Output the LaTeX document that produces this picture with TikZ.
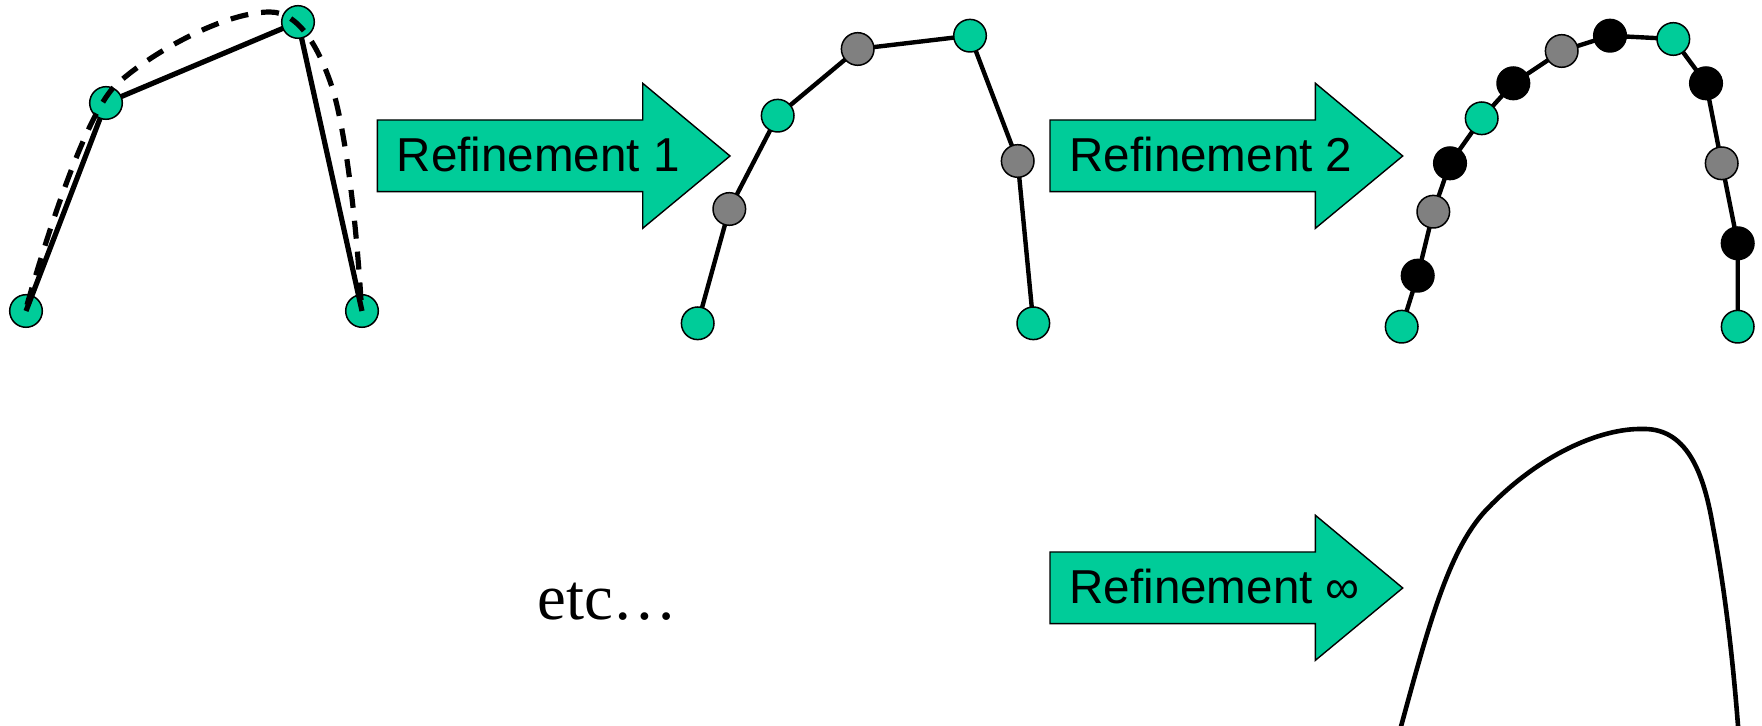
\documentclass[tikz,border=0pt]{standalone}
\usepackage{fontspec}
\setmainfont{Liberation Serif}
\newfontfamily\arialfont{Liberation Sans}
\pgfdeclarelayer{back}
\pgfdeclarelayer{wires}
\pgfsetlayers{back,wires,main}
\definecolor{sea}{HTML}{00CC99}
\definecolor{midgray}{HTML}{808080}
\tikzset{
  dot/.style={circle, draw=black, line width=0.75pt, minimum size=16.3pt, inner sep=0pt},
  ptsea/.style={dot, fill=sea},
  ptgray/.style={dot, fill=midgray},
  ptblack/.style={dot, fill=black},
  poly/.style={line width=2.2pt, line join=round},
  hull/.style={line width=2.6pt},
  limitcurve/.style={line width=2.6pt, dash pattern=on 9pt off 6.5pt},
  smoothcurve/.style={line width=2.3pt},
  arrowbody/.style={fill=sea, draw=black, line width=0.7pt, line join=miter},
  arrowtext/.style={anchor=base west, inner sep=0pt, font=\arialfont\fontsize{23.8}{23.8}\selectfont},
  pics/refarrow/.style={code={
    \draw[arrowbody] (0,-36) -- (265.4,-36) -- (265.4,-72.7) -- (352.7,0)
      -- (265.4,72.3) -- (265.4,35.7) -- (0,35.7) -- cycle;
    \node[arrowtext] (-label) at (19,15.7) {#1};
  }}
}
\begin{document}
\begin{tikzpicture}[x=0.5pt,y=-0.5pt]
\useasboundingbox (0,0) rectangle (1762,726);

% --- initial control polygon and the curve it defines ---
\begin{pgfonlayer}{back}
  \node[ptsea] (p0) at (26,311) {};
  \node[ptsea] (p3) at (362,311) {};
\end{pgfonlayer}
\node[ptsea] (p1) at (106,103) {};
\node[ptsea] (p2) at (298,22) {};
\begin{pgfonlayer}{wires}
  \draw[hull] (p0.center) -- (p1.center) -- (p2.center) -- (p3.center);
\end{pgfonlayer}
\draw[limitcurve] (27,305) .. controls (50,225) and (85,120) .. (113,88)
  .. controls (140,60) and (220,12) .. (270,12)
  .. controls (300,12) and (320,50) .. (333,90)
  .. controls (346,135) and (356,220) .. (361,300);

% --- first refinement ---
\pic (a1) at (377.3,156) {refarrow={Refinement 1}};
\node[ptsea]  (q0) at (697.7,323.3) {};
\node[ptgray] (q1) at (729.3,209) {};
\node[ptsea]  (q2) at (777.7,115.7) {};
\node[ptgray] (q3) at (857.7,49) {};
\node[ptsea]  (q4) at (970,35.7) {};
\node[ptgray] (q5) at (1017.7,161) {};
\node[ptsea]  (q6) at (1033.3,323.3) {};
\begin{pgfonlayer}{wires}
  \draw[poly] (q0.center) -- (q1.center) -- (q2.center) -- (q3.center)
    -- (q4.center) -- (q5.center) -- (q6.center);
\end{pgfonlayer}

% --- second refinement ---
\pic (a2) at (1050,156) {refarrow={Refinement 2}};
\node[ptsea]   (r0)  at (1401.7,326.7) {};
\node[ptblack] (r1)  at (1417.7,275.7) {};
\node[ptgray]  (r2)  at (1433.3,211.7) {};
\node[ptblack] (r3)  at (1450,163.3) {};
\node[ptsea]   (r4)  at (1481.7,118.3) {};
\node[ptblack] (r5)  at (1513.3,83.3) {};
\node[ptgray]  (r6)  at (1561.7,51) {};
\node[ptblack] (r7)  at (1610,35.7) {};
\node[ptsea]   (r8)  at (1673.3,39) {};
\node[ptblack] (r9)  at (1706,83.3) {};
\node[ptgray]  (r10) at (1721.7,163.3) {};
\node[ptblack] (r11) at (1737.7,243.3) {};
\node[ptsea]   (r12) at (1737.7,326.7) {};
\begin{pgfonlayer}{wires}
  \draw[poly] (r0.center) -- (r1.center) -- (r2.center) -- (r3.center)
    -- (r4.center) -- (r5.center) -- (r6.center) -- (r7.center)
    -- (r8.center) -- (r9.center) -- (r10.center) -- (r11.center)
    -- (r12.center);
\end{pgfonlayer}

% --- limit ---
\node[anchor=base west, inner sep=0pt, font=\fontsize{32.4}{32.4}\selectfont] (etc) at (537,620) {etc…};
\pic (a3) at (1050,588) {refarrow={Refinement ∞}};
\draw[smoothcurve] (1399.5,732) .. controls (1430,620) and (1450,545) .. (1490,506)
  .. controls (1540,455) and (1600,428) .. (1643,429)
  .. controls (1690,428) and (1705,480) .. (1713,527)
  .. controls (1725,590) and (1733,660) .. (1738.5,732);
\end{tikzpicture}
\end{document}
